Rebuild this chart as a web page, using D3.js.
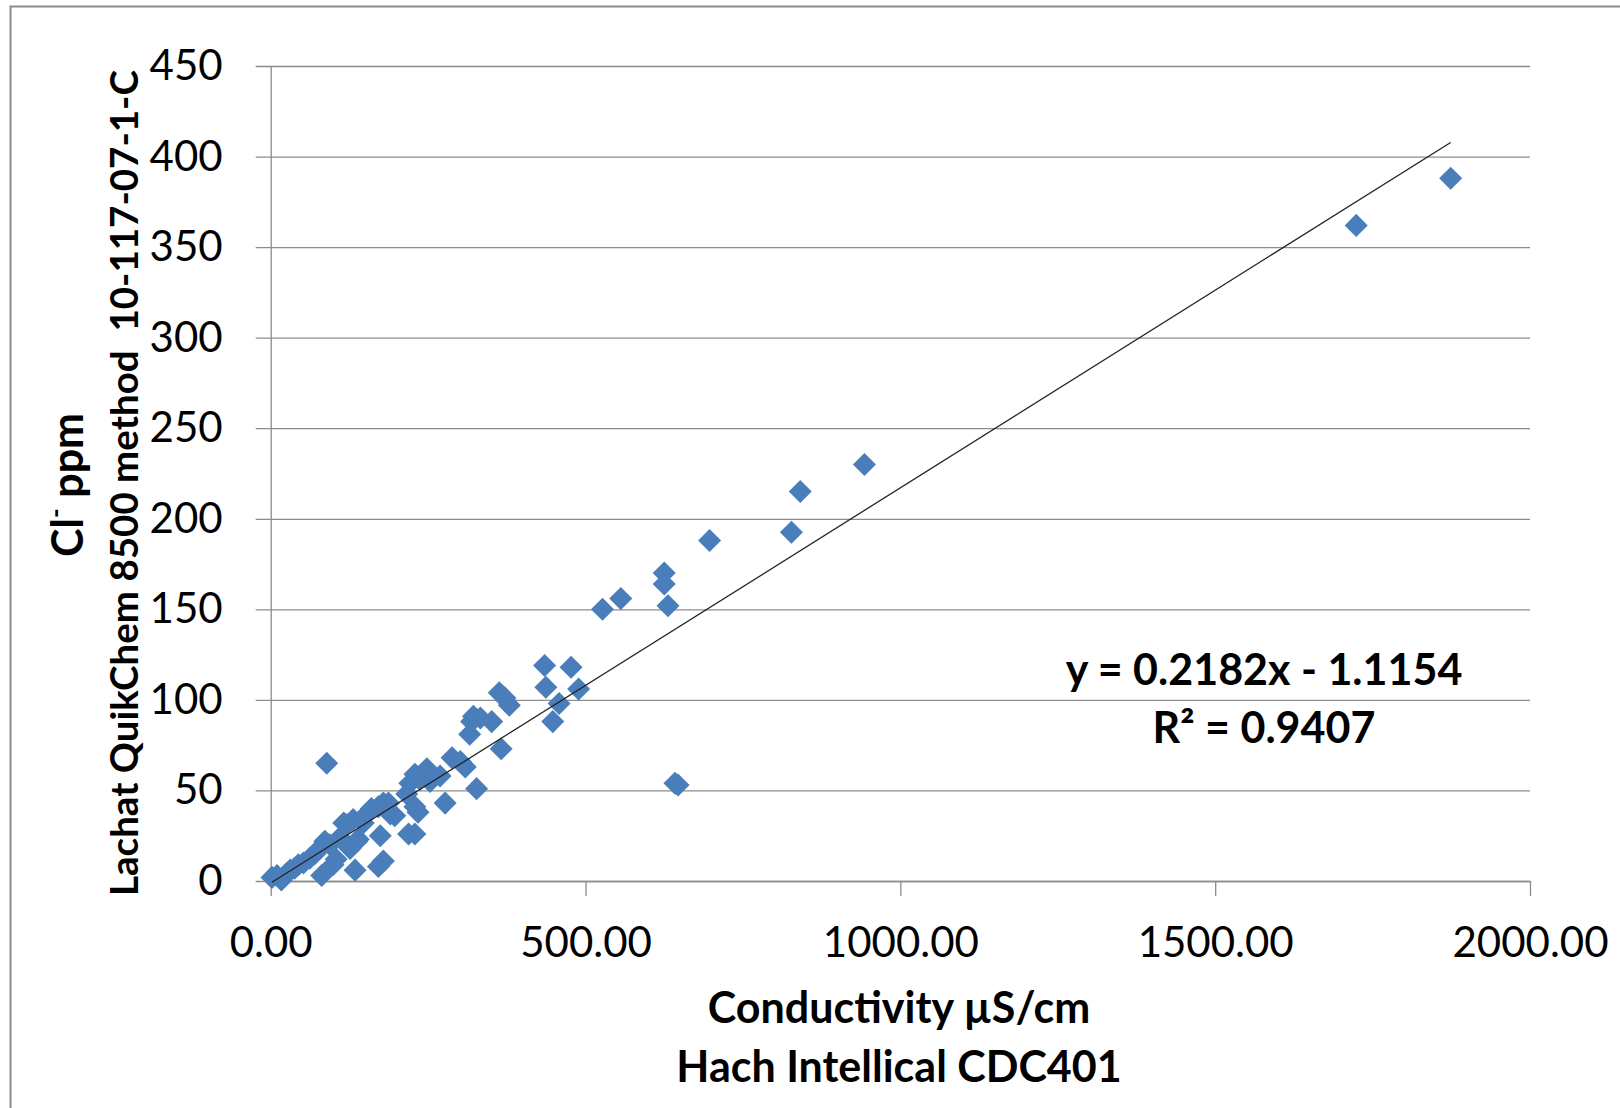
<!DOCTYPE html>
<html>
<head>
<meta charset="utf-8">
<script src="https://cdn.jsdelivr.net/npm/d3@7"></script>
<style>
  body { margin: 0; background: #fff; }
  svg text { font-family: Lato, "Open Sans", sans-serif; fill: #000; white-space: pre; }
</style>
</head>
<body>
<div id="chart"></div>
<script>
// conductivity (µS/cm) vs chloride (ppm)
const conductivity = [
  2, 10, 17, 25, 31, 38, 44, 52, 62, 70, 78, 81, 86, 89, 94, 99, 104, 110, 116, 121,
  126, 131, 134, 137, 139, 147, 155, 160, 171, 171, 174, 179, 179, 187, 190, 197, 216, 219, 221, 229,
  229, 229, 234, 237, 248, 253, 269, 277, 288, 301, 309, 316, 319, 322, 327, 333, 351, 363, 366, 372,
  379, 435, 437, 448, 458, 477, 489, 527, 556, 625, 625, 631, 642, 647, 697, 827, 841, 943, 1724, 1874
];
const chloride = [
  2, 3, 0.5, 4, 6, 7, 9, 10, 12.5, 15, 18, 3, 22, 65, 20, 9, 12, 24, 32, 31,
  18, 34, 6, 22, 23, 32, 38, 40, 41, 8, 25, 11, 43, 43, 37, 36, 48, 26, 54, 59,
  41, 26, 38, 56, 62, 55, 58, 43, 68, 66, 63, 81, 88, 91, 51, 90, 88, 104, 73, 101,
  97, 119, 107, 88, 98, 118, 106, 150, 156, 170, 164, 152, 54, 53, 188, 192.5, 215, 230, 362, 388
];

const xTicks = [0, 500, 1000, 1500, 2000];
const yTicks = [0, 50, 100, 150, 200, 250, 300, 350, 400, 450];

const trendSlope = 0.2182;
const trendIntercept = -1.1154;
const eqLabel = "y = 0.2182x - 1.1154";
const r2Label = "R² = 0.9407";

const xTitle = ["Conductivity µS/cm", "Hach Intellical CDC401"];
const yTitle2 = "Lachat QuikChem 8500 method  10-117-07-1-C";

const W = 1620, H = 1108;
const MARGIN = { TOP: 66, LEFT: 270.7, RIGHT: 90, BOTTOM: 227 };
const WIDTH = W - MARGIN.LEFT - MARGIN.RIGHT;
const HEIGHT = H - MARGIN.TOP - MARGIN.BOTTOM;

const GRID = "#8c8c8c";
const BLUE = "#4a7ebb";

const svg = d3.select("#chart")
  .append("svg")
  .attr("width", W)
  .attr("height", H);

// chart frame (right/bottom edges run off the page)
svg.append("rect")
  .attr("x", 10.5).attr("y", 6.5)
  .attr("width", W + 20).attr("height", H + 20)
  .attr("fill", "none")
  .attr("stroke", "#8c8c8c")
  .attr("stroke-width", 2);

const g = svg.append("g")
  .attr("transform", `translate(${MARGIN.LEFT},${MARGIN.TOP})`);

const x = d3.scaleLinear().domain([0, 2000]).range([0, WIDTH]);
const y = d3.scaleLinear().domain([0, 450]).range([HEIGHT, 0]);

// y axis + gridlines
const yAxisGroup = g.append("g")
  .call(d3.axisLeft(y).tickValues(yTicks).tickSize(-WIDTH).tickSizeOuter(0).tickPadding(48).tickFormat(d3.format("d")));
yAxisGroup.selectAll(".tick line")
  .attr("x1", -15)
  .attr("x2", WIDTH)
  .attr("stroke", GRID)
  .attr("stroke-width", 1.3);
yAxisGroup.select(".domain").attr("stroke", GRID).attr("stroke-width", 1.3);
yAxisGroup.selectAll("text")
  .attr("font-size", 42)
  .attr("font-family", "Lato")
  .attr("fill", "#000");

// x axis
const xAxisGroup = g.append("g")
  .attr("transform", `translate(0, ${HEIGHT})`)
  .call(d3.axisBottom(x).tickValues(xTicks).tickSize(15).tickSizeOuter(0).tickPadding(31).tickFormat(d3.format(".2f")));
xAxisGroup.selectAll(".tick line").attr("stroke", GRID).attr("stroke-width", 1.3);
xAxisGroup.select(".domain").attr("stroke", GRID).attr("stroke-width", 1.3);
xAxisGroup.selectAll("text")
  .attr("font-size", 42)
  .attr("font-family", "Lato")
  .attr("fill", "#000");

// points
const points = conductivity.map((c, i) => ({ c: c, cl: chloride[i] }));
g.selectAll("path.pt")
  .data(points)
  .enter()
  .append("path")
  .attr("class", "pt")
  .attr("d", d3.symbol(d3.symbolSquare, 265))
  .attr("transform", d => `translate(${x(d.c)},${y(d.cl)}) rotate(45)`)
  .attr("fill", BLUE);

// linear trendline over the data range
const xExt = d3.extent(conductivity);
const trend = xExt.map(v => [v, trendSlope * v + trendIntercept]);
g.append("path")
  .datum(trend)
  .attr("d", d3.line().x(d => x(d[0])).y(d => y(d[1])))
  .attr("fill", "none")
  .attr("stroke", "#222")
  .attr("stroke-width", 1.3);

// equation labels
g.append("text")
  .attr("x", 1264 - MARGIN.LEFT)
  .attr("y", 685 - MARGIN.TOP)
  .attr("text-anchor", "middle")
  .attr("font-size", 43)
  .attr("font-weight", "bold")
  .text(eqLabel);
g.append("text")
  .attr("x", 1264 - MARGIN.LEFT)
  .attr("y", 743 - MARGIN.TOP)
  .attr("text-anchor", "middle")
  .attr("font-size", 43)
  .attr("font-weight", "bold")
  .text(r2Label);

// x title
svg.selectAll("text.xtitle")
  .data(xTitle)
  .enter()
  .append("text")
  .attr("class", "xtitle")
  .attr("x", 899)
  .attr("y", (d, i) => 1023 + i * 59)
  .attr("text-anchor", "middle")
  .attr("font-size", 43)
  .attr("font-weight", "bold")
  .text(d => d);

// y title, two lines
const yt1 = svg.append("text")
  .attr("transform", "translate(82.6, 485) rotate(-90)")
  .attr("text-anchor", "middle")
  .attr("font-size", 43)
  .attr("font-weight", "bold");
yt1.append("tspan").text("Cl");
yt1.append("tspan").attr("font-size", 26).attr("dy", -18).text("-");
yt1.append("tspan").attr("dy", 18).text(" ppm");

svg.append("text")
  .attr("transform", "translate(137.7, 483) rotate(-90)")
  .attr("text-anchor", "middle")
  .attr("font-size", 38.5)
  .attr("font-weight", "bold")
  .text(yTitle2);
</script>
</body>
</html>
